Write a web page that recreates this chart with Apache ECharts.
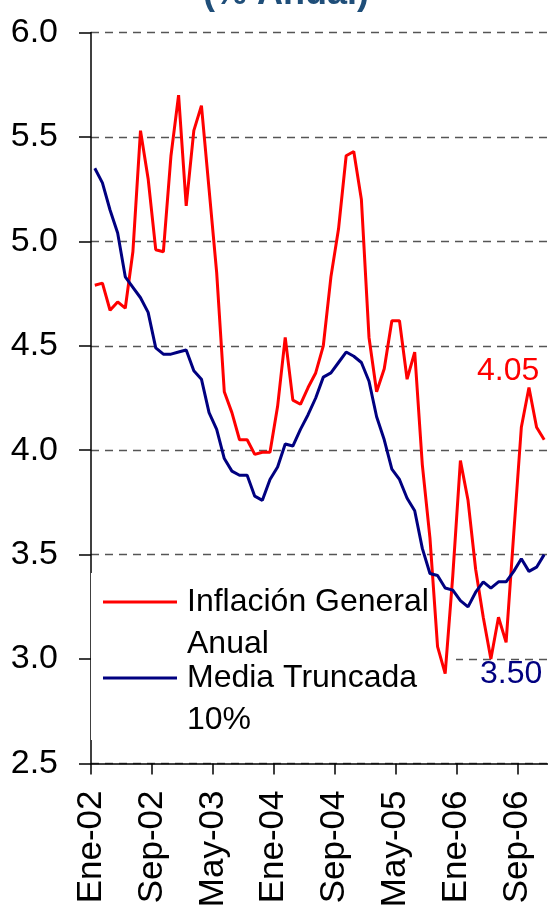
<!DOCTYPE html>
<html>
<head>
<meta charset="utf-8">
<script src="https://cdn.jsdelivr.net/npm/echarts@6/dist/echarts.min.js"></script>
<style>
html,body{margin:0;padding:0;background:#ffffff;}
#chart{width:548px;height:912px;}
</style>
</head>
<body>
<div id="chart"></div>
<script>
// ---- data ----
const monthNames = ['Ene','Feb','Mar','Abr','May','Jun','Jul','Ago','Sep','Oct','Nov','Dic'];
const years = ['02','03','04','05','06'];
const months = [];
years.forEach(function (y) { monthNames.forEach(function (m) { months.push(m + '-' + y); }); });
// tick labels sit on category boundaries (Excel "between categories")
const boundaryLabels = months.concat(['Ene-07']);

const inflacionGeneral = [
  4.79, 4.80, 4.67, 4.71, 4.68, 4.95, 5.53, 5.30, 4.96, 4.95, 5.41, 5.70,
  5.17, 5.53, 5.65, 5.25, 4.85, 4.28, 4.18, 4.05, 4.05, 3.98, 3.99, 3.99,
  4.21, 4.54, 4.24, 4.22, 4.30, 4.37, 4.50, 4.83, 5.06, 5.41, 5.43, 5.20,
  4.54, 4.28, 4.39, 4.62, 4.62, 4.34, 4.47, 3.93, 3.58, 3.06, 2.93, 3.40,
  3.95, 3.76, 3.43, 3.20, 3.00, 3.20, 3.08, 3.60, 4.11, 4.30, 4.11, 4.05
];
const mediaTruncada = [
  5.35, 5.28, 5.15, 5.04, 4.83, 4.78, 4.73, 4.66, 4.49, 4.46, 4.46, 4.47,
  4.48, 4.38, 4.34, 4.18, 4.10, 3.96, 3.90, 3.88, 3.88, 3.78, 3.76, 3.86,
  3.92, 4.03, 4.02, 4.10, 4.17, 4.25, 4.35, 4.37, 4.42, 4.47, 4.45, 4.42,
  4.33, 4.16, 4.05, 3.91, 3.86, 3.77, 3.71, 3.53, 3.41, 3.40, 3.34, 3.33,
  3.28, 3.25, 3.32, 3.37, 3.34, 3.37, 3.37, 3.42, 3.48, 3.42, 3.44, 3.50
];
const seriesNames = ['Inflación General\nAnual', 'Media Truncada\n10%'];
const seriesColors = ['#FF0000', '#000080'];
const endLabels = ['4.05', '3.50'];
const titleText = '(% Anual)';

const FONT = '"Liberation Sans", Arial, Helvetica, sans-serif';
const last = months.length - 1;

const chart = echarts.init(document.getElementById('chart'), null, {renderer: 'canvas'});

function legendFor(idx, top) {
  return {
    data: [seriesNames[idx]],
    orient: 'vertical',
    left: 103,
    top: top,
    padding: 0,
    icon: 'rect',
    itemWidth: 74,
    itemHeight: 3,
    selectedMode: false,
    // leading blank line keeps the first text line level with the icon
    formatter: function (name) { return '\n' + name; },
    textStyle: {
      fontFamily: FONT,
      fontSize: 32,
      color: '#000000',
      lineHeight: 42,
      padding: [0, 0, 0, 5]
    }
  };
}

function makeSeries(idx, values, labelOffset) {
  return {
    name: seriesNames[idx],
    type: 'line',
    xAxisIndex: 0,
    yAxisIndex: 0,
    data: values,
    symbol: 'none',
    z: 3 + idx,
    lineStyle: {color: seriesColors[idx], width: 3},
    itemStyle: {color: seriesColors[idx]},
    emphasis: {disabled: true},
    markPoint: {
      symbol: 'circle',
      symbolSize: 2,
      silent: true,
      itemStyle: {color: 'rgba(0,0,0,0)'},
      label: {
        show: true,
        position: 'inside',
        offset: labelOffset,
        formatter: endLabels[idx],
        color: seriesColors[idx],
        fontFamily: FONT,
        fontSize: 32
      },
      data: [{coord: [months[last], values[last]]}]
    }
  };
}

const option = {
  animation: false,
  backgroundColor: '#ffffff',
  title: {
    text: titleText,
    left: 203,
    top: -23.5,
    padding: 0,
    textStyle: {fontFamily: FONT, fontSize: 36, fontWeight: 'bold', color: '#1F4E79'}
  },
  legend: [legendFor(0, 539), legendFor(1, 615)],
  grid: {left: 91, top: 32.5, width: 459.6, height: 731, containLabel: false},
  xAxis: [
    {
      type: 'category',
      data: months,
      boundaryGap: true,
      axisLine: {show: true, lineStyle: {color: '#000000', width: 1.5}},
      axisTick: {show: false},
      axisLabel: {show: false},
      splitLine: {show: false}
    },
    {
      type: 'category',
      data: boundaryLabels,
      boundaryGap: false,
      position: 'bottom',
      axisLine: {show: false},
      axisTick: {show: true, interval: 7, length: 11, lineStyle: {color: '#000000', width: 1.5}},
      axisLabel: {
        show: true, interval: 7, rotate: 90, margin: 27,
        fontFamily: FONT, fontSize: 35, color: '#000000'
      },
      splitLine: {show: false}
    }
  ],
  yAxis: {
    type: 'value',
    min: 2.5,
    max: 6.0,
    interval: 0.5,
    axisLine: {show: true, lineStyle: {color: '#000000', width: 1.5}},
    axisTick: {show: true, length: 12, lineStyle: {color: '#000000', width: 1.5}},
    axisLabel: {
      margin: 33,
      fontFamily: FONT, fontSize: 34, color: '#000000',
      formatter: function (v) { return v.toFixed(1); }
    },
    splitLine: {show: true, lineStyle: {color: '#555555', width: 1.3, type: [8, 6]}}
  },
  graphic: [
    {
      type: 'rect',
      z: 1,
      silent: true,
      shape: {x: 91, y: 573, width: 365, height: 167},
      style: {fill: '#ffffff'}
    }
  ],
  series: [
    makeSeries(0, inflacionGeneral, [-36, -69]),
    makeSeries(1, mediaTruncada, [-33, 120])
  ]
};
chart.setOption(option);
</script>
</body>
</html>
